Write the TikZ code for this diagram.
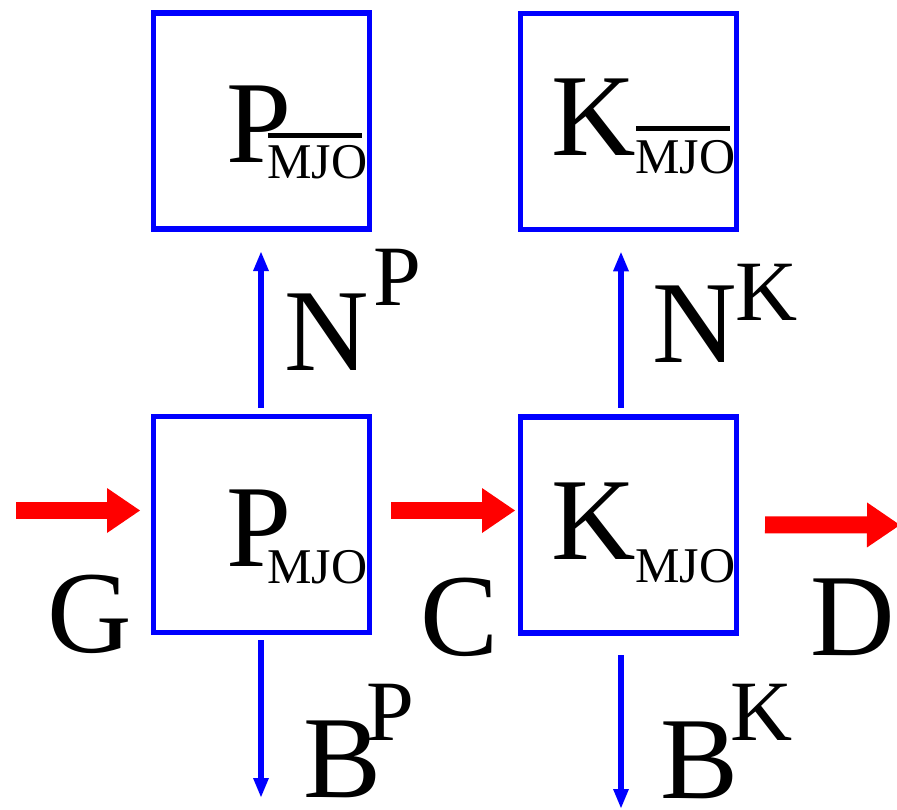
\documentclass[tikz,border=0pt]{standalone}
\usepackage{fontspec}
\setmainfont{Liberation Serif}
\usetikzlibrary{arrows.meta}
\tikzset{
  box/.style={draw=blue, line width=5.5pt, minimum width=216pt, minimum height=216pt, inner sep=0pt},
  big/.style={font=\fontsize{117}{120}\selectfont, inner sep=0pt, anchor=base west},
  suptext/.style={font=\fontsize{86}{90}\selectfont, inner sep=0pt, anchor=base west},
  subtext/.style={font=\fontsize{50}{52}\selectfont, inner sep=0pt, anchor=base west},
  flow/.style={draw=blue, line width=5.5pt, -{Triangle[length=19pt,width=16pt,line width=0pt]}},
  mass/.style={draw=red, line width=17pt, line cap=butt, -{Triangle[length=33pt,width=45pt,line width=0pt]}},
  bar/.style={draw=black, line width=5pt}
}
\begin{document}
\begin{tikzpicture}[x=1pt,y=-1pt]
\useasboundingbox (0,0) rectangle (897,809);
\clip (0,0) rectangle (897,809);
% boxes
\node[box] (pt) at (261.5,121) {};
\node[box] (kt) at (628.5,121.25) {};
\node[box] (pb) at (261.5,524.5) {};
\node[box] (kb) at (628.5,524.75) {};
% box texts
\node[big] (ptP) at (226,162) {P};
\node[subtext] (ptS) at (267,178) {MJO};
\draw[bar] (268,135) -- (362,135);
\node[big] (ktK) at (551,155) {K};
\node[subtext] (ktS) at (635,173) {MJO};
\draw[bar] (636,128) -- (730,128);
\node[big] (pbP) at (226,566) {P};
\node[subtext] (pbS) at (267,583) {MJO};
\node[big] (kbK) at (551,559) {K};
\node[subtext] (kbS) at (635,582) {MJO};
% labels
\node[big] (NP) at (284,370) {N};
\node[suptext] (NPs) at (373,305) {P};
\node[big] (NK) at (652,362) {N};
\node[suptext] (NKs) at (735,320) {K};
\node[big] (BP) at (303,797) {B};
\node[suptext] (BPs) at (366,740) {P};
\node[big] (BK) at (660,798) {B};
\node[suptext] (BKs) at (730,740) {K};
\node[big] (G) at (47,652) {G};
\node[big] (C) at (420,655) {C};
\node[big] (D) at (810,655) {D};
% free ends
\coordinate (gin) at (16,510.5);
\coordinate (dout) at (900,525);
\coordinate (bpout) at (261,797);
\coordinate (bkout) at (621,808);
% blue flows
\draw[flow, shorten <=5.75pt, shorten >=20.25pt] ([xshift=-0.5pt]pb.north) -- ([xshift=-0.5pt]pt.south);
\draw[flow, shorten <=6.25pt, shorten >=20.25pt] ([xshift=-7.5pt]kb.north) -- ([xshift=-7.5pt]kt.south);
\draw[flow, shorten <=4.75pt] ([xshift=-0.5pt]pb.south) -- (bpout);
\draw[flow, shorten <=19.75pt] ([xshift=-7.5pt]kb.south) -- (bkout);
% red flows
\draw[mass, shorten >=10.75pt] (gin) -- ([yshift=14pt]pb.west);
\draw[mass, shorten <=18.75pt, shorten >=2.75pt] ([yshift=14pt]pb.east) -- ([yshift=14.25pt]kb.west);
\draw[mass, shorten <=25.75pt] (kb.east) -- (dout);
\end{tikzpicture}
\end{document}
